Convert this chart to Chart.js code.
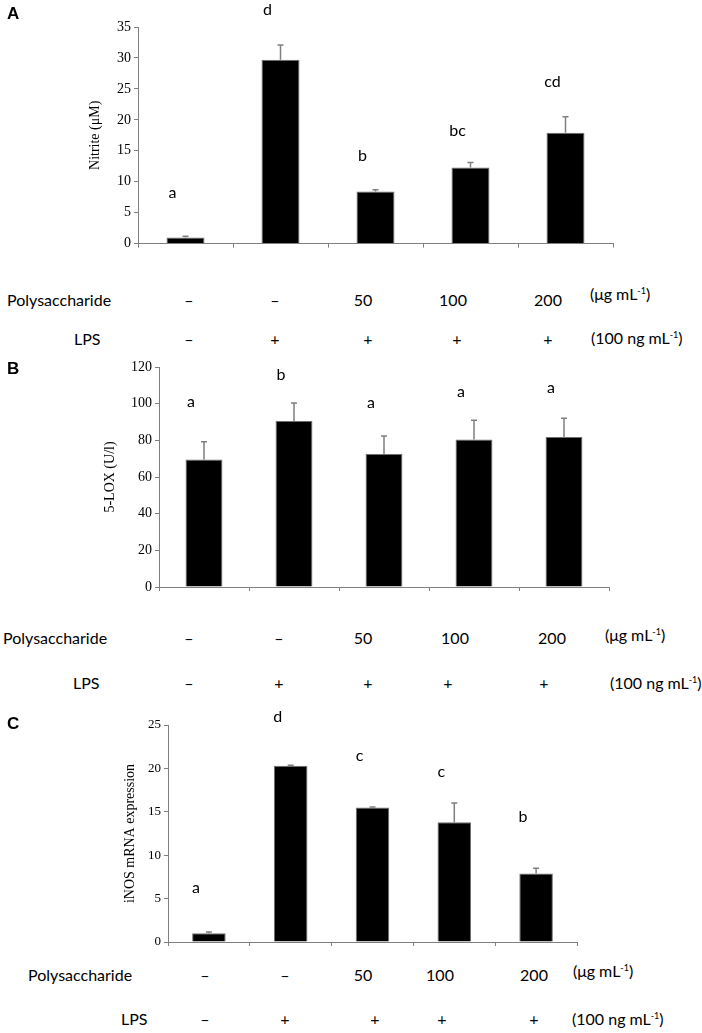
<!DOCTYPE html>
<html>
<head>
<meta charset="utf-8">
<script src="https://cdn.jsdelivr.net/npm/chart.js@4.4.0/dist/chart.umd.min.js"></script>
<style>
  body { margin: 0; background: #fff; }
  #page { position: relative; width: 702px; height: 1033px; overflow: hidden; }
  canvas { position: absolute; left: 0; }
  .t { position: absolute; font-family: Lato, "Noto Sans", sans-serif; font-size: 16px; color: #000; white-space: nowrap; transform: translate(-50%, -50%); }
  .l { position: absolute; font-family: Lato, "Noto Sans", sans-serif; font-size: 16px; color: #000; white-space: nowrap; transform: translateY(-50%); }
  .panel { position: absolute; font-family: "Liberation Sans", Arial, sans-serif; font-weight: bold; font-size: 17px; transform: translateY(-50%); }
  sup { font-size: 9px; vertical-align: 6px; }
</style>
</head>
<body>
<div id="page">
  <canvas id="chartA" width="702" height="255" style="top:0px"></canvas>
  <canvas id="chartB" width="702" height="245" style="top:355px"></canvas>
  <canvas id="chartC" width="702" height="255" style="top:700px"></canvas>
</div>
<script>
// data
var groups = ["ctrl", "LPS", "LPS+P50", "LPS+P100", "LPS+P200"];
var polyDose = ["\u2013", "\u2013", "50", "100", "200"];
var lpsDose = ["\u2013", "+", "+", "+", "+"];

var nitriteMean = [1.0, 29.7, 8.4, 12.3, 17.9];
var nitriteErr = [0.2, 2.4, 0.3, 0.8, 2.6];
var nitriteLetters = ["a", "d", "b", "bc", "cd"];
var nitriteLetterY = [8.2, 37.7, 14.2, 18.2, 26.1];

var loxMean = [69.5, 90.5, 72.5, 80.5, 81.8];
var loxErr = [9.7, 9.9, 9.8, 10.4, 10.3];
var loxLetters = ["a", "b", "a", "a", "a"];
var loxLetterY = [101, 115.6, 100.4, 106.4, 108.6];

var inosMean = [1.0, 20.3, 15.5, 13.8, 7.9];
var inosErr = [0.15, 0.05, 0.05, 2.2, 0.6];
var inosLetters = ["a", "d", "c", "c", "b"];
var inosLetterY = [6.2, 25.9, 21.4, 19.6, 14.4];

//error bars + letters
var markPlugin = {
  id: "marks",
  afterDatasetsDraw: function(chart) {
    var c = chart.ctx;
    var meta = chart.getDatasetMeta(0);
    var ys = chart.scales.y;
    var ex = chart.options.plugins.marks;
    c.save();
    meta.data.forEach(function(bar, i) {
      var top = ys.getPixelForValue(ex.mean[i] + ex.err[i]);
      c.strokeStyle = "#7f7f7f";
      c.lineWidth = 1.5;
      c.beginPath();
      c.moveTo(bar.x, bar.y);
      c.lineTo(bar.x, top);
      c.moveTo(bar.x - 3, top);
      c.lineTo(bar.x + 3, top);
      c.stroke();
      c.fillStyle = "#000";
      c.font = "16px Lato";
      c.textAlign = "center";
      c.textBaseline = "middle";
      c.fillText(ex.letters[i], bar.x - 13, ys.getPixelForValue(ex.letterY[i]));
    });
    c.restore();
  }
};

function makeChart(id, mean, err, letters, letterY, yMax, yStep, title, lay) {
  var ctx = document.getElementById(id).getContext("2d");
  return new Chart(ctx, {
    type: "bar",
    plugins: [markPlugin],
    data: {
      labels: groups,
      datasets: [{
        data: mean,
        backgroundColor: "#000",
        borderColor: "#6f6f6f",
        borderWidth: 1,
        categoryPercentage: 1,
        barPercentage: lay.bar
      }]
    },
    options: {
      responsive: false,
      animation: false,
      layout: { padding: { left: lay.left, right: lay.right, top: lay.top, bottom: lay.bottom } },
      plugins: {
        legend: { display: false },
        tooltip: { enabled: false },
        marks: { mean: mean, err: err, letters: letters, letterY: letterY }
      },
      scales: {
        x: {
          ticks: { display: false },
          grid: { offset: true, drawOnChartArea: false, drawTicks: true, tickLength: 4, color: "#7f7f7f" },
          border: { color: "#7f7f7f", width: 1 },
          afterFit: function(s) { s.height = 5; }
        },
        y: {
          min: 0,
          max: yMax,
          ticks: { stepSize: yStep, color: "#000", padding: 3, font: { family: "Liberation Serif", size: lay.font } },
          grid: { drawOnChartArea: false, drawTicks: true, tickLength: 4, color: "#7f7f7f" },
          border: { color: "#7f7f7f", width: 1 },
          title: { display: true, text: title, color: "#000", padding: 0, font: { family: "Liberation Serif", size: 14 } },
          afterFit: function(s) { s.width = lay.yw; }
        }
      }
    }
  });
}

var chartA = makeChart("chartA", nitriteMean, nitriteErr, nitriteLetters, nitriteLetterY, 35, 5, "Nitrite (\u03bcM)",
  { left: 87, yw: 51, right: 89, top: 27, bottom: 6, bar: 0.4, font: 14 });
var chartB = makeChart("chartB", loxMean, loxErr, loxLetters, loxLetterY, 120, 20, "5-LOX (U/l)",
  { left: 102, yw: 57, right: 93, top: 12, bottom: 8, bar: 0.41, font: 14 });
var chartC = makeChart("chartC", inosMean, inosErr, inosLetters, inosLetterY, 25, 5, "iNOS mRNA expression",
  { left: 122, yw: 46, right: 125, top: 25, bottom: 8, bar: 0.41, font: 13 });

// treatment rows under each panel
var page = document.getElementById("page");
function addText(cls, html, x, y) {
  var d = document.createElement("div");
  d.className = cls;
  d.innerHTML = html;
  d.style.left = x + "px";
  d.style.top = y + "px";
  page.appendChild(d);
}
var rows = [
  { panel: "A", py: 14, polyY: 299, polyX: [189, 275, 363, 453, 548], polyL: 7, polyU: [590, 293],
    lpsY: 338, lpsX: [189, 275, 368, 457, 548], lpsL: 74, lpsU: [591, 337] },
  { panel: "B", py: 369, polyY: 637, polyX: [189, 279, 363, 455, 552], polyL: 3, polyU: [605, 634],
    lpsY: 682, lpsX: [189, 279, 368, 448, 544], lpsL: 73, lpsU: [610, 682] },
  { panel: "C", py: 724, polyY: 974, polyX: [205, 285, 363, 440, 534], polyL: 28, polyU: [573, 970],
    lpsY: 1018, lpsX: [205, 285, 375, 442, 534], lpsL: 121, lpsU: [572, 1018] }
];
rows.forEach(function(r) {
  addText("panel", r.panel, 7, r.py);
  addText("l", "Polysaccharide", r.polyL, r.polyY);
  addText("l", "LPS", r.lpsL, r.lpsY);
  for (var i = 0; i < polyDose.length; i++) {
    addText("t", polyDose[i], r.polyX[i], r.polyY);
    addText("t", lpsDose[i], r.lpsX[i], r.lpsY);
  }
  addText("l", "(\u03bcg mL<sup>-1</sup>)", r.polyU[0], r.polyU[1]);
  addText("l", "(100 ng mL<sup>-1</sup>)", r.lpsU[0], r.lpsU[1]);
});
</script>
</body>
</html>
